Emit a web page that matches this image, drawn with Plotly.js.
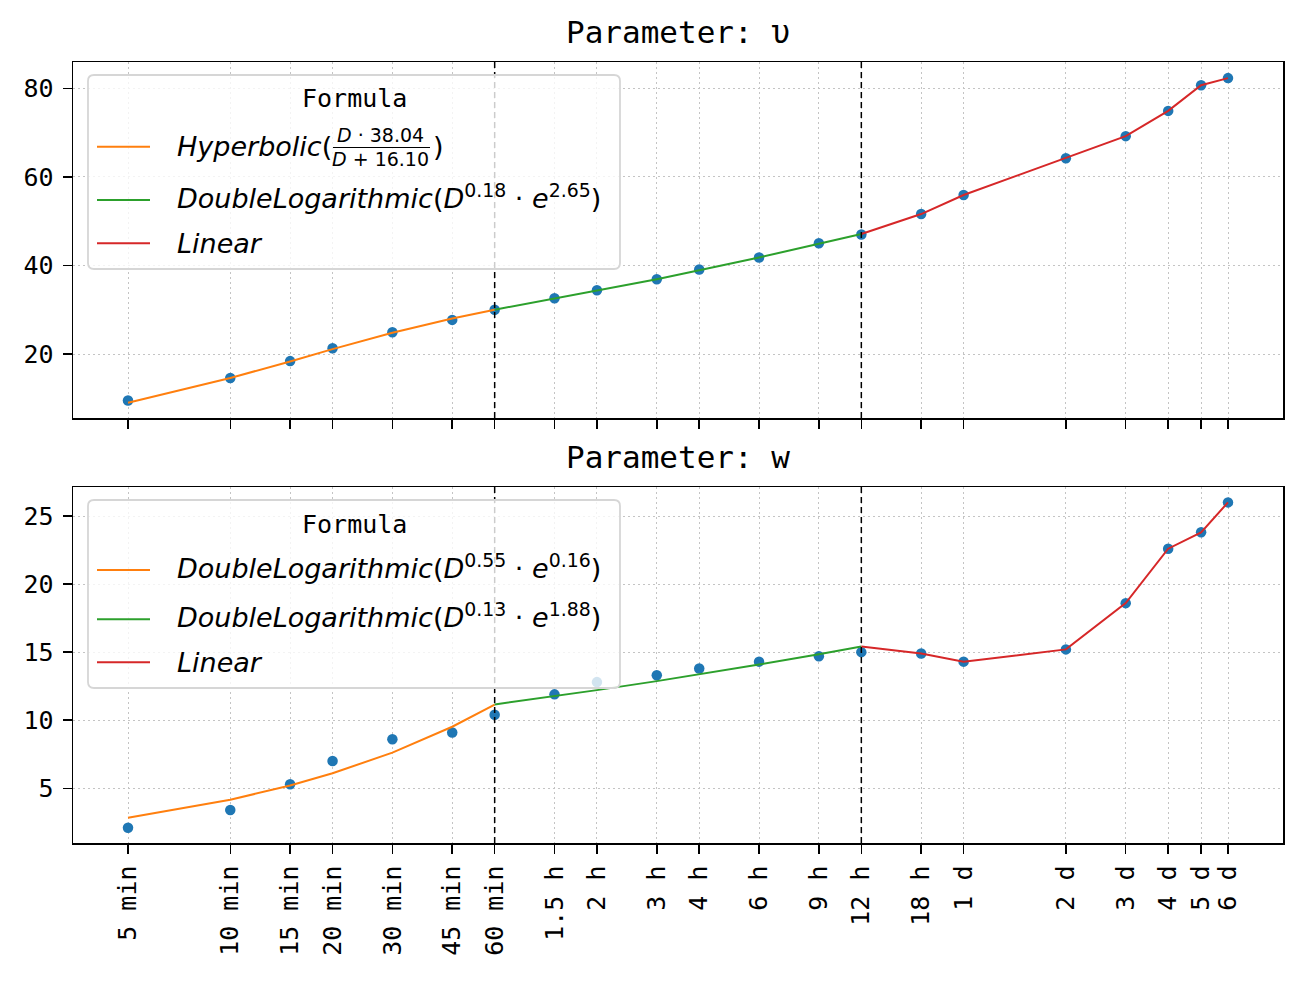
<!DOCTYPE html>
<html>
<head>
<meta charset="utf-8">
<script src="https://cdn.plot.ly/plotly-3.0.1.min.js"></script>
<style>html,body{margin:0;padding:0;background:#fff}</style>
</head>
<body>
<div id="chart" style="width:1303px;height:983px"></div>
<script>
// ---------- data ----------
const durationsMin = [5,10,15,20,30,45,60,90,120,180,240,360,540,720,1080,1440,2880,4320,5760,7200,8640];
const tickLabels = ['5 min','10 min','15 min','20 min','30 min','45 min','60 min','1.5 h','2 h','3 h','4 h','6 h','9 h','12 h','18 h','1 d','2 d','3 d','4 d','5 d','6 d'];

// Parameter u
const uPoints = [9.5,14.6,18.4,21.3,24.9,27.7,30.0,32.6,34.4,36.9,39.1,41.8,45.0,47.0,51.6,55.9,64.2,69.2,74.9,80.7,82.3];
const uHypX = [5,10,15,20,30,45,60];
const uHypY = [9.0,14.6,18.3,21.1,24.8,28.0,30.0];
const uDLogX = [60,90,120,180,240,360,540,720];
const uDLogY = [30.0,32.5,34.3,36.9,38.9,41.8,44.9,47.1];
const uLinX = [720,1080,1440,2880,4320,5760,7200,8640];
const uLinY = [47.1,51.6,55.9,64.2,69.2,74.9,80.7,82.3];

// Parameter w
const wPoints = [2.1,3.4,5.3,7.0,8.6,9.1,10.4,11.9,12.8,13.3,13.8,14.3,14.7,15.0,14.9,14.3,15.2,18.6,22.6,23.8,26.0];
const wDLog1X = [5,10,15,20,30,45,60];
const wDLog1Y = [2.84,4.16,5.20,6.10,7.62,9.52,11.15];
const wDLog2X = [60,90,120,180,240,360,540,720];
const wDLog2Y = [11.16,11.76,12.21,12.87,13.36,14.09,14.85,15.41];
const wLinX = [720,1080,1440,2880,4320,5760,7200,8640];
const wLinY = [15.41,14.9,14.3,15.2,18.6,22.6,23.8,26.0];

const uTicks = [20,40,60,80];
const wTicks = [5,10,15,20,25];
const splitDurations = [60,720];

const uLegend = ['Hyperbolic', 'DoubleLogarithmic', 'Linear'];
const wLegend = ['DoubleLogarithmic', 'DoubleLogarithmic', 'Linear'];

// ---------- styling ----------
const C = {blue:'#1f77b4', orange:'#ff7f0e', green:'#2ca02c', red:'#d62728'};
const MONO = 'DejaVu Sans Mono';
const SANS = 'DejaVu Sans';
const L=73, R=1283, T=62, B=843;
const px = x => (x-L)/(R-L);
const py = y => (B-y)/(B-T);

function pts(x, y, xa, ya){
  return {x:x, y:y, xaxis:xa, yaxis:ya, mode:'markers', type:'scatter', showlegend:false,
    marker:{color:C.blue, size:10.5, line:{width:0}}, hoverinfo:'skip'};
}
function line(x, y, color, xa, ya){
  return {x:x, y:y, xaxis:xa, yaxis:ya, mode:'lines', type:'scatter', showlegend:false,
    line:{color:color, width:2}, hoverinfo:'skip'};
}

const traces = [
  pts(durationsMin, uPoints, 'x', 'y'),
  line(uHypX, uHypY, C.orange, 'x', 'y'),
  line(uDLogX, uDLogY, C.green, 'x', 'y'),
  line(uLinX, uLinY, C.red, 'x', 'y'),
  pts(durationsMin, wPoints, 'x2', 'y2'),
  line(wDLog1X, wDLog1Y, C.orange, 'x2', 'y2'),
  line(wDLog2X, wDLog2Y, C.green, 'x2', 'y2'),
  line(wLinX, wLinY, C.red, 'x2', 'y2'),
];

const xlo = Math.log10(durationsMin[0]), xhi = Math.log10(durationsMin[durationsMin.length-1]);
const pad = (xhi-xlo)*0.05;
const xrange = [xlo-pad, xhi+pad];

const axisCommon = {
  showline:true, mirror:true, linecolor:'#000', linewidth:1.5,
  ticks:'outside', ticklen:9, tickwidth:1.5, tickcolor:'#000',
  showgrid:true, gridcolor:'#c4c4c4', griddash:'2px,3px', gridwidth:1,
  zeroline:false, tickfont:{family:MONO, size:25, color:'#000'}
};

function roundRect(x0,y0,x1,y1,r){
  const P=(x,y)=>px(x)+','+py(y);
  return `M${P(x0+r,y0)} L${P(x1-r,y0)} Q${P(x1,y0)} ${P(x1,y0+r)} L${P(x1,y1-r)} Q${P(x1,y1)} ${P(x1-r,y1)} L${P(x0+r,y1)} Q${P(x0,y1)} ${P(x0,y1-r)} L${P(x0,y0+r)} Q${P(x0,y0)} ${P(x0+r,y0)} Z`;
}

const shapes = [];
const annotations = [];

// dashed split lines
[['x','y domain'],['x2','y2 domain']].forEach(([xr,yr])=>{
  splitDurations.forEach(d=>{
    shapes.push({type:'line', xref:xr, yref:yr, x0:d, x1:d, y0:0, y1:1, layer:'above',
      line:{color:'#000', width:1.5, dash:'6px,4px'}});
  });
});

function legend(top, rows, texts){
  shapes.push({type:'path', xref:'paper', yref:'paper', layer:'above',
    path: roundRect(88, top, 620, rows.bottom, 6),
    fillcolor:'rgba(255,255,255,0.8)', line:{color:'#d6d6d6', width:1.8}});
  annotations.push({xref:'paper', yref:'paper', x:px(354), y:py(top+24), xanchor:'center', yanchor:'middle',
    text:'Formula', showarrow:false, font:{family:MONO, size:25, color:'#000'}});
  const cols = [C.orange, C.green, C.red];
  rows.ys.forEach((yy,i)=>{
    shapes.push({type:'line', xref:'paper', yref:'paper', layer:'above',
      x0:px(97), x1:px(150), y0:py(yy), y1:py(yy), line:{color:cols[i], width:2}});
  });
  texts.forEach(t=>annotations.push(Object.assign({xref:'paper', yref:'paper', showarrow:false,
    font:{family:SANS, size:27, color:'#000'}}, t)));
}

// top legend
legend(75, {ys:[146.7,200,243.3], bottom:269}, [
  {x:px(175), y:py(146.7), xanchor:'left', yanchor:'middle', text:'<i>'+uLegend[0]+'</i>('},
  {x:px(381), y:py(135), xanchor:'center', yanchor:'middle', text:'<i>D</i> · 38.04', font:{family:SANS, size:19, color:'#000'}},
  {x:px(381), y:py(159), xanchor:'center', yanchor:'middle', text:'<i>D</i> + 16.10', font:{family:SANS, size:19, color:'#000'}},
  {x:px(431), y:py(146.7), xanchor:'left', yanchor:'middle', text:')'},
  {x:px(175), y:py(196), xanchor:'left', yanchor:'middle', text:'<i>'+uLegend[1]+'</i>(<i>D</i><sup>0.18</sup> · <i>e</i><sup>2.65</sup>)'},
  {x:px(175), y:py(243.3), xanchor:'left', yanchor:'middle', text:'<i>'+uLegend[2]+'</i>'},
]);
shapes.push({type:'line', xref:'paper', yref:'paper', layer:'above',
  x0:px(333), x1:px(430), y0:py(147.5), y1:py(147.5), line:{color:'#000', width:1.2}});

// bottom legend
legend(500, {ys:[570,619.3,662.3], bottom:688}, [
  {x:px(175), y:py(566), xanchor:'left', yanchor:'middle', text:'<i>'+wLegend[0]+'</i>(<i>D</i><sup>0.55</sup> · <i>e</i><sup>0.16</sup>)'},
  {x:px(175), y:py(615.3), xanchor:'left', yanchor:'middle', text:'<i>'+wLegend[1]+'</i>(<i>D</i><sup>0.13</sup> · <i>e</i><sup>1.88</sup>)'},
  {x:px(175), y:py(662.3), xanchor:'left', yanchor:'middle', text:'<i>'+wLegend[2]+'</i>'},
]);

// subplot titles
annotations.push({xref:'paper', yref:'paper', x:px(678), y:py(32), xanchor:'center', yanchor:'middle',
  text:'Parameter: υ', showarrow:false, font:{family:MONO, size:31, color:'#000'}});
annotations.push({xref:'paper', yref:'paper', x:px(678), y:py(457), xanchor:'center', yanchor:'middle',
  text:'Parameter: w', showarrow:false, font:{family:MONO, size:31, color:'#000'}});

const layout = {
  width:1303, height:983,
  margin:{l:L, r:1303-R, t:T, b:983-B, pad:0},
  paper_bgcolor:'#fff', plot_bgcolor:'#fff',
  showlegend:false,
  xaxis: Object.assign({}, axisCommon, {type:'log', range:xrange, anchor:'y', tickvals:durationsMin, ticktext:tickLabels, showticklabels:false}),
  yaxis: Object.assign({}, axisCommon, {domain:[py(418),1], range:[5.55,85.94], tickvals:uTicks, anchor:'x', ticklabelstandoff:4}),
  xaxis2: Object.assign({}, axisCommon, {type:'log', range:xrange, anchor:'y2', matches:'x', tickvals:durationsMin, ticktext:tickLabels, tickangle:-90, ticklabelstandoff:2}),
  yaxis2: Object.assign({}, axisCommon, {domain:[0,py(487)], range:[0.98,27.13], tickvals:wTicks, anchor:'x2', ticklabelstandoff:4}),
  shapes:shapes,
  annotations:annotations
};

Plotly.newPlot('chart', traces, layout, {staticPlot:true, displayModeBar:false});
</script>
</body>
</html>
